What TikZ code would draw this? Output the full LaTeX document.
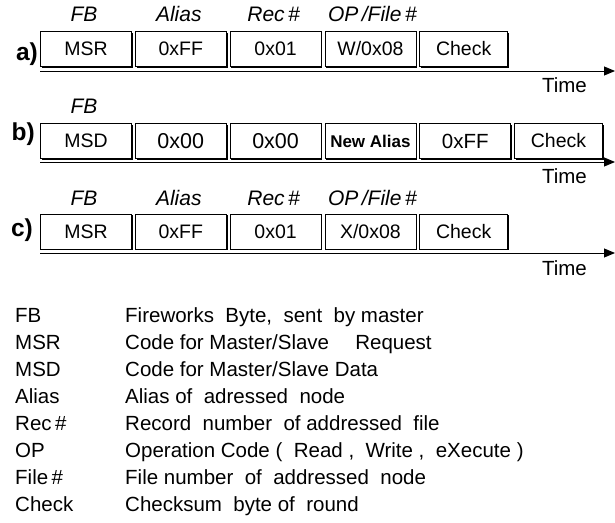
\documentclass[tikz,border=0pt]{standalone}
\usepackage{fontspec}
\setmainfont{Liberation Sans}
\usetikzlibrary{arrows.meta, positioning, shadows}

\begin{document}
\begin{tikzpicture}[x=1pt, y=-1pt,
  node distance=3pt, >={Triangle[length=11pt, width=9pt]},
  box/.style={draw, line width=0.8pt, fill=white, minimum width=91pt,
              minimum height=35pt, inner sep=1pt, font=\fontsize{19.5}{22}\selectfont,
              drop shadow={shadow xshift=1.3pt, shadow yshift=-1.3pt, fill=black, opacity=1}},
  lbl/.style={font=\fontsize{21}{24}\selectfont\itshape, inner sep=0pt, text depth=0pt},
  row/.style={font=\fontsize{24.5}{26}\selectfont\bfseries, inner sep=0pt, anchor=base east},
  tm/.style={font=\fontsize{20.5}{24}\selectfont, inner sep=0pt, text depth=0pt},
  key/.style={font=\fontsize{20.5}{27}\selectfont, inner sep=0pt, anchor=base west},
  axis/.style={->, line width=0.9pt}]
\useasboundingbox (0,0) rectangle (615,522);

\node[box] (a1) at (86,49) {MSR};
\node[box, right=of a1] (a2) {0xFF};
\node[box, right=of a2] (a3) {0x01};
\node[box, right=of a3] (a4) {W/0x08};
\node[box, right=of a4, minimum width=88pt] (a5) {Check};
\node[row] (ra) at (38,60) {a)};
\node[lbl, above=9pt of a1, xshift=-2pt] (fa1) {FB};
\node[lbl, above=9pt of a2, xshift=-2pt] (fa2) {Alias};
\node[lbl, above=9pt of a3, xshift=-2pt] (fa3) {Rec\,\#};
\node[lbl, above=9pt of a4, xshift=2pt] (fa4) {OP\,/File\,\#};
\coordinate (ta0) at (40,71);
\coordinate (ta1) at (615,71);
\draw[axis] (ta0) -- (ta1);
\node[tm, below left=6.5pt and 28pt of ta1] (tma) {Time};

\node[box] (b1) at (86,141) {MSD};
\node[box, right=of b1, font=\fontsize{21.5}{24}\selectfont] (b2) {0x00};
\node[box, right=of b2, font=\fontsize{21.5}{24}\selectfont] (b3) {0x00};
\node[box, right=of b3, font=\fontsize{17}{20}\selectfont\bfseries] (b4) {New Alias};
\node[box, right=of b4, font=\fontsize{20.5}{24}\selectfont] (b5) {0xFF};
\node[box, right=of b5, minimum width=88pt] (b6) {Check};
\node[row] (rb) at (35,140) {b)};
\node[lbl, above=9pt of b1, xshift=-2pt] (fb1) {FB};
\coordinate (tb0) at (40,162);
\coordinate (tb1) at (615,162);
\draw[axis] (tb0) -- (tb1);
\node[tm, below left=6pt and 28pt of tb1] (tmb) {Time};

\node[box] (c1) at (86,231.5) {MSR};
\node[box, right=of c1] (c2) {0xFF};
\node[box, right=of c2] (c3) {0x01};
\node[box, right=of c3] (c4) {X/0x08};
\node[box, right=of c4, minimum width=88pt] (c5) {Check};
\node[row] (rc) at (33,236) {c)};
\node[lbl, above=8pt of c1, xshift=-2pt] (fc1) {FB};
\node[lbl, above=8pt of c2, xshift=-2pt] (fc2) {Alias};
\node[lbl, above=8pt of c3, xshift=-2pt] (fc3) {Rec\,\#};
\node[lbl, above=8pt of c4, xshift=2pt] (fc4) {OP\,/File\,\#};
\coordinate (tc0) at (40,253);
\coordinate (tc1) at (615,253);
\draw[axis] (tc0) -- (tc1);
\node[tm, below left=7pt and 28pt of tc1] (tmc) {Time};

\foreach \k/\d [count=\i] in {
    FB/{Fireworks\ \ Byte,\ \ sent\ \ by master},
    MSR/{Code for Master/Slave\quad\ Request},
    MSD/{Code for Master/Slave Data},
    Alias/{Alias of\ \ adressed\ \ node},
    {Rec\,\#}/{Record\ \ number\ \ of addressed\ \ file},
    OP/{Operation Code (\ \ Read ,\ \ Write ,\ \ eXecute )},
    {File\,\#}/{File number\ \ of\ \ addressed\ \ node},
    Check/{Checksum\ \ byte of\ \ round}} {
  \node[key] (k\i) at (15,295+27*\i) {\k};
  \node[key] (d\i) at (125,295+27*\i) {\d};
}
\end{tikzpicture}
\end{document}
